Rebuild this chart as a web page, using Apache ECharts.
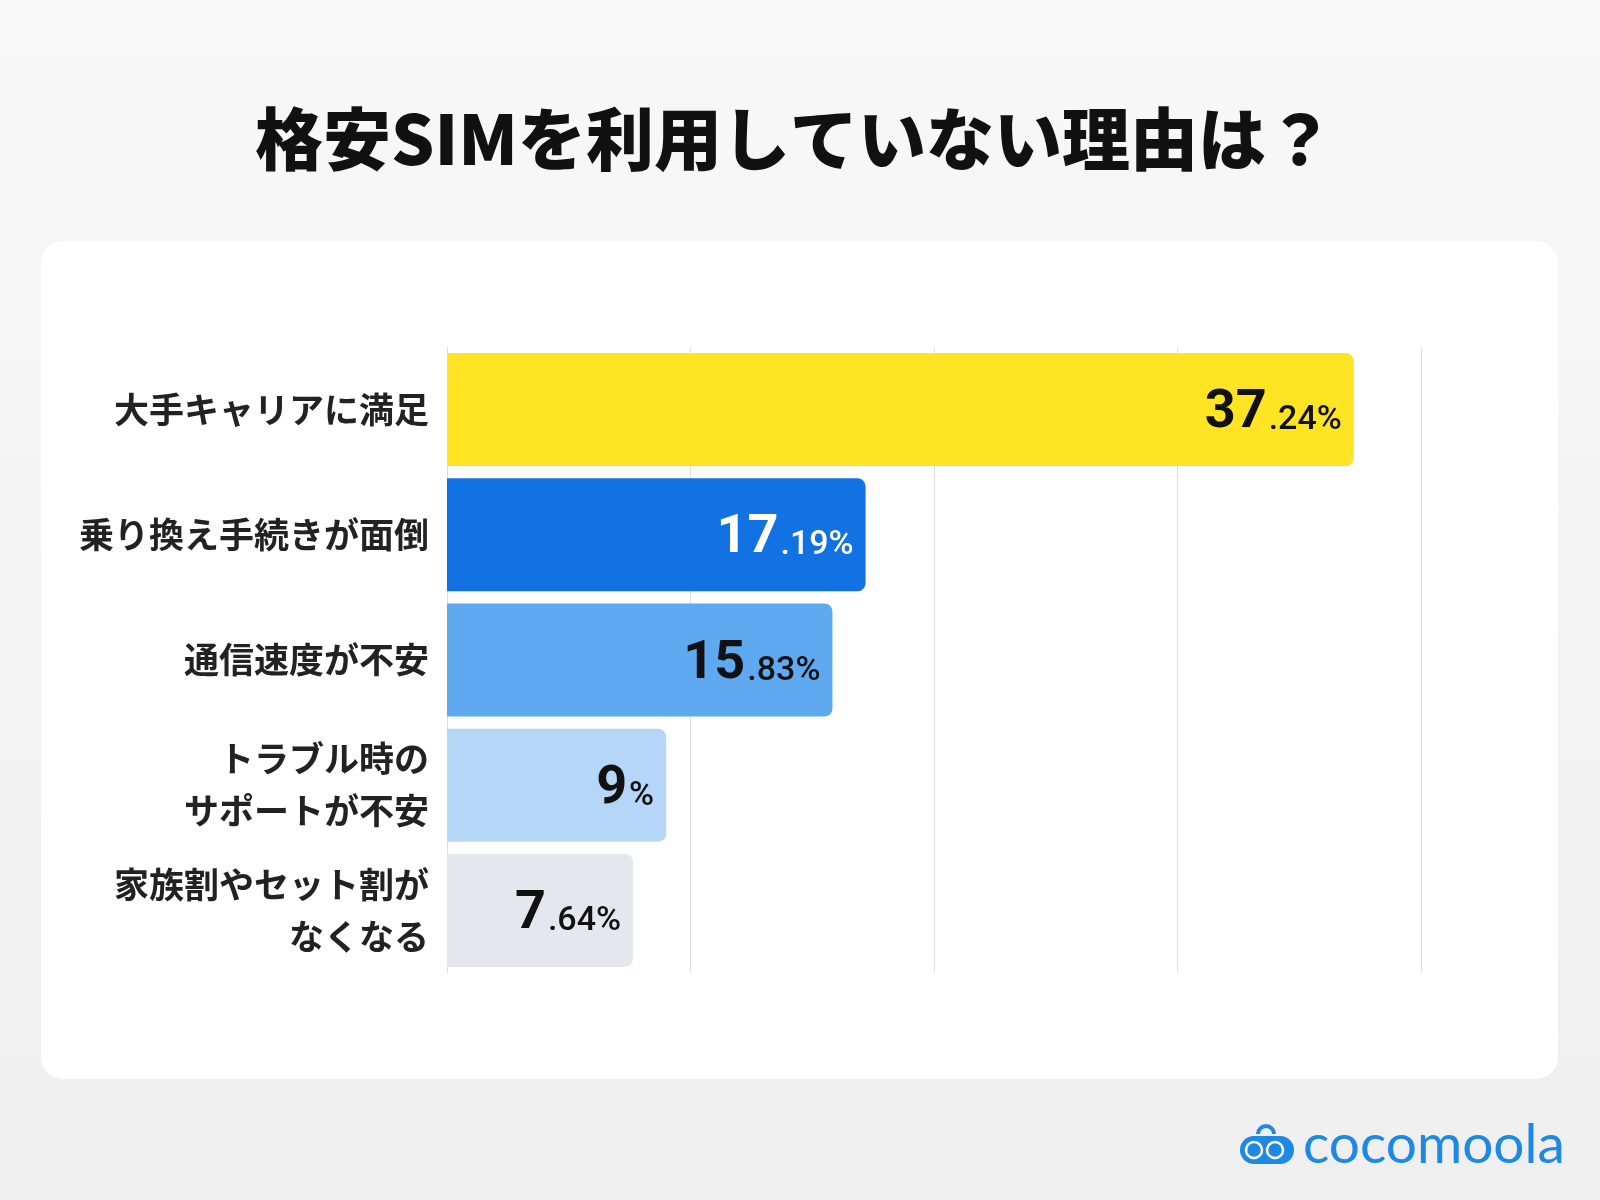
<!DOCTYPE html>
<html>
<head>
<meta charset="utf-8">
<script src="https://cdn.jsdelivr.net/npm/echarts@6/dist/echarts.min.js"></script>
<style>
  html, body { margin: 0; padding: 0; }
  #main { width: 1600px; height: 1200px; }
</style>
</head>
<body>
<div id="main"></div>
<script>
  // data
  const categories = [
    '大手キャリアに満足',
    '乗り換え手続きが面倒',
    '通信速度が不安',
    'トラブル時の\nサポートが不安',
    '家族割やセット割が\nなくなる'
  ]
  const values = [37.24, 17.19, 15.83, 9, 7.64]
  const titleText = '格安SIMを利用していない理由は？'
  const brand = 'cocomoola'

  // styles
  const barColors = ['#FFE423', '#1272E3', '#5EA9F0', '#B5D6F7', '#E4E8EE']
  const whiteLabel = [false, true, false, false, false]
  const logoBlue = '#1E88E5'

  const chart = echarts.init(document.getElementById('main'))

  const option = {
    backgroundColor: {
      type: 'linear', x: 0, y: 0, x2: 0, y2: 1,
      colorStops: [{offset: 0, color: '#f8f8f8'}, {offset: 1, color: '#efefef'}]
    },
    title: {
      text: titleText,
      left: 250,
      top: 100,
      textStyle: {
        fontFamily: 'Noto Sans CJK JP',
        fontWeight: 900,
        fontSize: 68,
        color: '#111'
      }
    },
    graphic: [
      {
        type: 'rect',
        z: -10,
        shape: {x: 41, y: 241, width: 1517, height: 838, r: 22},
        style: {fill: '#fff'}
      },
      {
        type: 'group',
        left: 1240,
        top: 1118,
        children: [
          {
            type: 'arc',
            shape: {cx: 26, cy: 12, r: 8, startAngle: Math.PI, endAngle: 0},
            style: {stroke: logoBlue, lineWidth: 4, fill: null}
          },
          {
            type: 'rect',
            shape: {x: 0, y: 14, width: 54, height: 28, r: 14},
            style: {fill: logoBlue}
          },
          {
            type: 'circle',
            shape: {cx: 14, cy: 28, r: 8},
            style: {fill: logoBlue, stroke: '#fff', lineWidth: 2.5}
          },
          {
            type: 'circle',
            shape: {cx: 35, cy: 28, r: 8},
            style: {fill: logoBlue, stroke: '#fff', lineWidth: 2.5}
          },
          {
            type: 'text',
            x: 63,
            y: -4,
            style: {
              text: brand,
              font: '400 55px Lato',
              fill: logoBlue
            }
          }
        ]
      }
    ],
    grid: {
      left: 447,
      right: 179,
      top: 347,
      height: 626
    },
    xAxis: {
      type: 'value',
      min: 0,
      max: 40,
      interval: 10,
      axisLabel: {show: false},
      axisLine: {show: false},
      axisTick: {show: false},
      splitLine: {
        show: true,
        lineStyle: {color: '#dedede', width: 1}
      }
    },
    yAxis: {
      type: 'category',
      inverse: true,
      data: categories,
      axisLine: {show: false},
      axisTick: {show: false},
      axisLabel: {
        margin: 18,
        fontFamily: 'Noto Sans CJK JP',
        fontWeight: 700,
        fontSize: 35,
        lineHeight: 52,
        color: '#222',
        align: 'right'
      }
    },
    series: [
      {
        type: 'bar',
        barWidth: 113,
        data: values.map((v, i) => ({
          value: v,
          itemStyle: {color: barColors[i], borderRadius: [0, 8, 8, 0]}
        })),
        label: {
          show: true,
          position: 'insideRight',
          distance: 12,
          offset: [0, 4],
          formatter: function (p) {
            const parts = String(p.value).split('.')
            const dec = parts.length > 1 ? '.' + parts[1] + '%' : '%'
            const w = whiteLabel[p.dataIndex] ? 'w' : ''
            return '{a' + w + '|' + parts[0] + '}{b' + w + '|' + dec + '}'
          },
          rich: {
            a: {fontFamily: 'Roboto', fontWeight: 700, fontSize: 54, color: '#111'},
            b: {fontFamily: 'Roboto', fontWeight: 500, fontSize: 34, color: '#111', padding: [14, 0, 0, 2]},
            aw: {fontFamily: 'Roboto', fontWeight: 700, fontSize: 54, color: '#fff'},
            bw: {fontFamily: 'Roboto', fontWeight: 500, fontSize: 34, color: '#fff', padding: [14, 0, 0, 2]}
          }
        }
      }
    ]
  }

  chart.setOption(option)
</script>
</body>
</html>
